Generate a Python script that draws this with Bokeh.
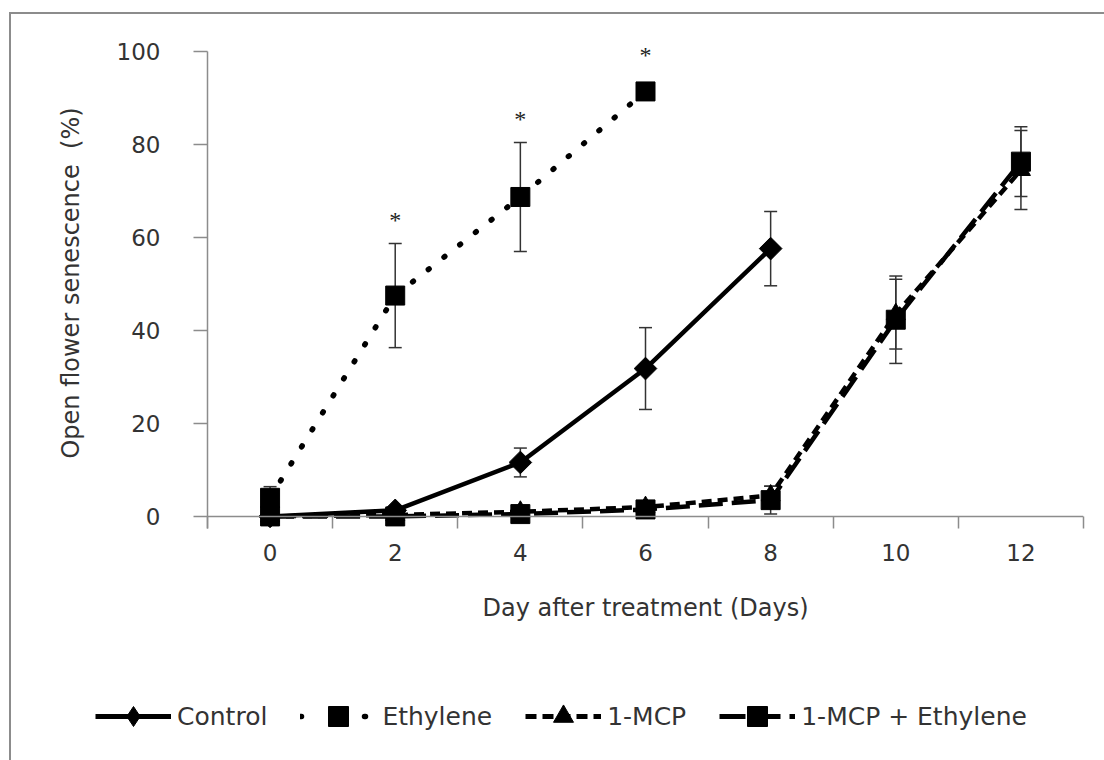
import math
from bokeh.plotting import figure
from bokeh.layouts import column
from bokeh.models import (ColumnDataSource, FixedTicker, Span, Whisker, TeeHead,
                          Legend, LegendItem, LabelSet, Range1d)
from bokeh.embed import file_html
from bokeh.resources import INLINE

# ---- data ----
control_days = [0, 2, 4, 6, 8]
control = [0.0, 1.3, 11.6, 31.8, 57.6]
control_err = [0.0, 0.8, 3.1, 8.8, 8.0]

ethylene_days = [0, 2, 4, 6]
ethylene = [4.0, 47.5, 68.7, 91.4]
ethylene_err = [2.4, 11.2, 11.7, 0.8]

mcp_days = [0, 2, 4, 6, 8, 10, 12]
mcp = [0.0, 0.3, 1.0, 2.0, 4.5, 43.5, 74.5]
mcp_err = [0.0, 0.3, 0.5, 0.8, 2.0, 7.5, 8.5]

mcp_eth_days = [0, 2, 4, 6, 8, 10, 12]
mcp_eth = [0.0, 0.0, 0.5, 1.5, 3.5, 42.3, 76.3]
mcp_eth_err = [0.0, 0.0, 0.5, 0.8, 3.0, 9.4, 7.5]

star_days = [2, 4, 6]
star_y = [63.8, 85.5, 99.3]
star_text = ["*", "*", "*"]

series_names = ["Control", "Ethylene", "1-MCP", "1-MCP + Ethylene"]

x_ticks = [0, 2, 4, 6, 8, 10, 12]
x_bounds = [-1, 1, 3, 5, 7, 9, 11, 13]
y_ticks = [0, 20, 40, 60, 80, 100]

FONT = "DejaVu Sans"
AX = "#8c8c8c"
TXT = "#333333"

# styles per series (line kwargs, marker kwargs) for the chart
STY = [
    (dict(line_color="black", line_width=4.5),
     dict(marker="square", angle=math.pi / 4, size=16, fill_color="black", line_color="black")),
    (dict(line_color="black", line_width=5.5, line_dash="1 19", line_cap="round"),
     dict(marker="square", size=19, fill_color="black", line_color="black")),
    (dict(line_color="black", line_width=4.5, line_dash="10 6"),
     dict(marker="triangle", size=19, fill_color="black", line_color="black")),
    (dict(line_color="black", line_width=4.5, line_dash="24 9"),
     dict(marker="square", size=19, fill_color="black", line_color="black")),
]
# styles for the legend swatches
LSTY = [
    (dict(line_color="black", line_width=5),
     dict(marker="diamond", fill_color="black", line_color="black")),
    (dict(line_color="black", line_width=5.5, line_dash="1 31", line_cap="round"),
     dict(marker="square", fill_color="black", line_color="black")),
    (dict(line_color="black", line_width=5, line_dash="11 6"),
     dict(marker="triangle", fill_color="black", line_color="black")),
    (dict(line_color="black", line_width=5, line_dash="26 9"),
     dict(marker="square", fill_color="black", line_color="black")),
]

p = figure(width=1093, height=626, x_range=Range1d(-1, 13), y_range=Range1d(-2.6, 103),
           output_backend="svg", toolbar_location=None,
           min_border_left=196, min_border_right=21, min_border_top=23, min_border_bottom=112)
p.outline_line_color = None
p.grid.visible = False
p.background_fill_color = "white"
p.border_fill_color = "white"

# x axis
xa = p.xaxis[0]
xa.ticker = FixedTicker(ticks=x_ticks, minor_ticks=x_bounds)
xa.axis_line_color = None
xa.major_tick_line_color = None
xa.minor_tick_line_color = AX
xa.minor_tick_line_width = 1.5
xa.minor_tick_in = 12
xa.minor_tick_out = 0
xa.major_label_standoff = 9
xa.major_label_text_font = FONT
xa.major_label_text_font_size = "23px"
xa.major_label_text_color = TXT
xa.axis_label = "Day after treatment (Days)"
xa.axis_label_text_font = FONT
xa.axis_label_text_font_size = "24px"
xa.axis_label_text_font_style = "normal"
xa.axis_label_text_color = TXT
xa.axis_label_standoff = 30

# y axis
ya = p.yaxis[0]
ya.ticker = FixedTicker(ticks=y_ticks)
ya.bounds = (-2.6, y_ticks[-1])
ya.axis_line_color = AX
ya.axis_line_width = 1.5
ya.major_tick_line_color = AX
ya.major_tick_line_width = 1.5
ya.major_tick_in = 0
ya.major_tick_out = 14
ya.minor_tick_line_color = None
ya.major_label_standoff = 33
ya.major_label_text_font = FONT
ya.major_label_text_font_size = "23px"
ya.major_label_text_color = TXT
ya.axis_label = "Open flower senescence\u00a0 (%)"
ya.axis_label_text_font = FONT
ya.axis_label_text_font_size = "24px"
ya.axis_label_text_font_style = "normal"
ya.axis_label_text_color = TXT
ya.axis_label_standoff = 29

p.add_layout(Span(location=0, dimension="width", line_color=AX, line_width=1.5))

# error bars
def add_err(xs, ys, es):
    xs2 = [x for x, e in zip(xs, es) if e > 0]
    up = [y + e for y, e in zip(ys, es) if e > 0]
    lo = [y - e for y, e in zip(ys, es) if e > 0]
    src = ColumnDataSource(dict(x=xs2, upper=up, lower=lo))
    w = Whisker(source=src, base="x", upper="upper", lower="lower",
                line_color="#333333", line_width=1.5, level="underlay",
                upper_head=TeeHead(size=13, line_color="#333333", line_width=1.5),
                lower_head=TeeHead(size=13, line_color="#333333", line_width=1.5))
    p.add_layout(w)

add_err(control_days, control, control_err)
add_err(ethylene_days, ethylene, ethylene_err)
add_err(mcp_days, mcp, mcp_err)
add_err(mcp_eth_days, mcp_eth, mcp_eth_err)

# series
data = [(control_days, control), (ethylene_days, ethylene), (mcp_days, mcp), (mcp_eth_days, mcp_eth)]
for (xs, ys), (lk, mk) in zip(data, STY):
    p.line(xs, ys, **lk)
    p.scatter(xs, ys, **mk)

stars = LabelSet(source=ColumnDataSource(dict(x=star_days, y=star_y, t=star_text)),
                 x="x", y="y", text="t", text_align="center", text_baseline="middle",
                 text_font=FONT, text_font_size="24px", text_color="#222222")
p.add_layout(stars)

# legend strip (separate small figure below the chart; its data lie outside its view)
lf = figure(width=1093, height=120, x_range=Range1d(1000, 1001), y_range=Range1d(1000, 1001),
            output_backend="svg", toolbar_location=None,
            min_border_left=0, min_border_right=0, min_border_top=0, min_border_bottom=0)
lf.frame_align = False
lf.axis.visible = False
lf.grid.visible = False
lf.outline_line_color = None
items = []
for name, (xs, ys), (lk, mk) in zip(series_names, data, LSTY):
    lr = lf.line(xs, ys, **lk)
    mr = lf.scatter(xs, ys, **mk)
    items.append(LegendItem(label=name, renderers=[lr, mr]))
legend = Legend(items=items, orientation="horizontal", location=(84, 19),
                glyph_width=76, glyph_height=50, label_standoff=6, spacing=33,
                padding=0, margin=0, border_line_color=None, background_fill_alpha=0,
                label_text_font=FONT, label_text_font_size="25px", label_text_color=TXT)
lf.add_layout(legend, "center")

layout = column(p, lf, spacing=0)
layout.margin = (12, 0, 0, 9)
layout.styles = {"border-left": "2px solid #8c8c8c", "border-top": "2px solid #8c8c8c"}

open("out.html", "w").write(file_html(layout, INLINE))
